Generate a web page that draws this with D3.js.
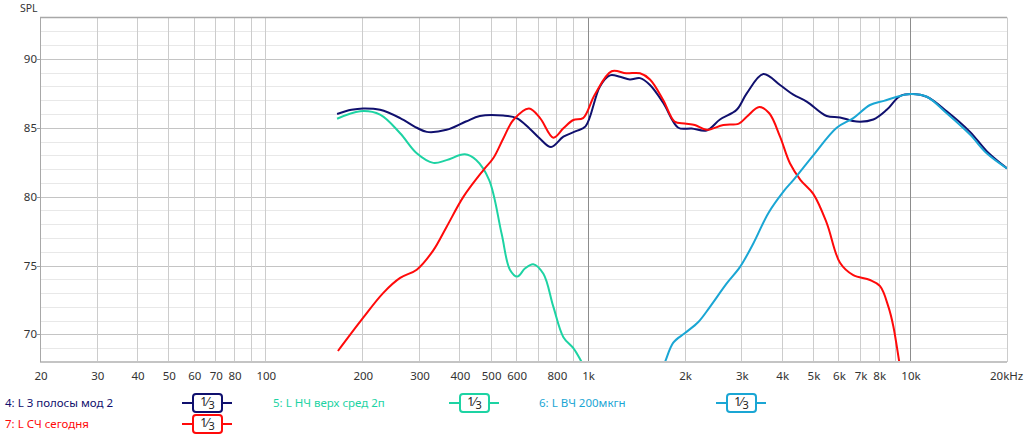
<!DOCTYPE html>
<html>
<head>
<meta charset="utf-8">
<script src="https://cdn.jsdelivr.net/npm/d3@7"></script>
<style>
  body { margin: 0; background: #fff; }
  text { font-family: "Noto Sans", "Open Sans", sans-serif; }
</style>
</head>
<body>
<script>
// frequency response data (Hz, dB SPL)
var navyFreq = [167,185,201,227,262,295,317,365,419,463,547,602,660,712,770,841,920,985,1092,1173,1260,1352,1454,1561,1717,1911,2103,2339,2574,2900,3116,3508,3953,4346,4782,5515,6067,6834,7696,8469,9312,10240,11272,13000,15360,17300,20000];
var navyDb   = [86.0,86.3,86.4,86.3,85.7,85.0,84.7,84.85,85.45,85.85,85.88,85.7,84.95,84.2,83.6,84.35,84.75,85.1,88.0,88.8,88.7,88.5,88.6,88.1,86.8,85.0,84.95,84.8,85.6,86.3,87.5,88.9,88.1,87.4,86.9,85.85,85.75,85.45,85.6,86.3,87.3,87.45,87.25,86.2,84.7,83.3,82.05];

var tealFreq = [167,197,227,262,295,332,365,416,451,495,541,574,605,640,678,729,783,841,903,958,1000];
var tealDb   = [85.65,86.2,85.95,84.6,83.15,82.45,82.65,83.07,82.66,81.2,77.3,74.7,74.2,74.8,75.1,74.4,72.0,69.8,69.0,68.0,67.2];

var cyanFreq = [1700,1738,1844,2005,2205,2396,2701,2970,3266,3635,4060,4346,5012,5925,6670,7516,8300,9120,10000,11272,13000,15360,17300,20000];
var cyanDb   = [67.5,68.0,69.4,70.1,70.9,72.0,73.7,74.9,76.6,78.8,80.4,81.2,83.0,85.0,85.7,86.65,86.95,87.25,87.45,87.25,86.05,84.5,83.15,82.05];

var redFreq = [168,201,232,262,295,332,365,412,475,510,547,588,658,712,783,841,903,968,1052,1187,1317,1454,1561,1717,1860,2000,2150,2339,2636,2945,3116,3409,3660,3953,4246,4577,5012,5515,6067,6670,7516,8076,8575,8879,9265,9500];
var redDb   = [68.8,71.2,73.0,74.1,74.7,76.1,77.8,80.0,81.93,82.8,84.2,85.56,86.4,85.7,84.28,84.96,85.56,85.7,87.4,89.1,88.95,88.95,88.5,87.0,85.45,85.3,85.2,84.85,85.2,85.3,85.8,86.5,86.05,84.35,82.4,81.2,80.2,78.1,75.2,74.3,73.95,73.5,72.0,70.6,68.0,66.5];

var seriesNames  = ["4: L 3 полосы мод 2", "5: L НЧ верх сред 2п", "6: L ВЧ 200мкгн", "7: L СЧ сегодня"];
var seriesColors = ["#10106e", "#1dd3a3", "#1aa6d4", "#ff0a0a"];

var xTicks = [20,30,40,50,60,70,80,100,200,300,400,500,600,800,1000,2000,3000,4000,5000,6000,7000,8000,10000,20000];
var xTickLabels = ["20","30","40","50","60","70","80","100","200","300","400","500","600","800","1k","2k","3k","4k","5k","6k","7k","8k","10k","20kHz"];
var yTicks = [70,75,80,85,90];

var W = 1027, H = 435;
var plotLeft = 40, plotRight = 1007, plotTop = 17.5, plotBottom = 362;

var svg = d3.select("body").append("svg").attr("width", W).attr("height", H);

var x = d3.scaleLog().domain([20, 20000]).range([plotLeft, plotRight]);
var y = d3.scaleLinear().domain([68, 93]).range([plotBottom, plotTop]);

// horizontal grid (1 dB, darker every 5 dB)
var g = svg.append("g");
g.selectAll("line.hmin").data(d3.range(69, 93)).enter().append("line")
    .attr("x1", plotLeft).attr("x2", plotRight)
    .attr("y1", function (d) { return Math.round(y(d)) + 0.5; })
    .attr("y2", function (d) { return Math.round(y(d)) + 0.5; })
    .attr("stroke", function (d) { return d % 5 === 0 ? "#c4c4c4" : "#e8e8e8"; })
    .attr("stroke-width", 1);

// vertical grid: 1..9 lines of each decade
var vgrid = [];
[10, 100, 1000, 10000].forEach(function (dec) {
    for (var k = 1; k < 10; k++) {
        var f = dec * k;
        if (f > 20 && f < 20000) vgrid.push(f);
    }
});
g.selectAll("line.v").data(vgrid).enter().append("line")
    .attr("x1", function (d) { return Math.round(x(d)) + 0.5; })
    .attr("x2", function (d) { return Math.round(x(d)) + 0.5; })
    .attr("y1", plotTop).attr("y2", plotBottom)
    .attr("stroke", function (d) { return (d === 1000 || d === 10000) ? "#8c8c8c" : "#cccccc"; })
    .attr("stroke-width", 1);

// frame
svg.append("line").attr("x1", plotLeft).attr("x2", plotRight).attr("y1", plotTop).attr("y2", plotTop)
    .attr("stroke", "#a8a8a8").attr("stroke-width", 1.5);
svg.append("line").attr("x1", plotLeft).attr("x2", plotRight).attr("y1", plotBottom).attr("y2", plotBottom)
    .attr("stroke", "#c4c4c4").attr("stroke-width", 2);
svg.append("line").attr("x1", plotLeft + 0.5).attr("x2", plotLeft + 0.5).attr("y1", plotTop).attr("y2", plotBottom)
    .attr("stroke", "#a8a8a8").attr("stroke-width", 1);
svg.append("line").attr("x1", plotRight + 0.5).attr("x2", plotRight + 0.5).attr("y1", plotTop).attr("y2", plotBottom)
    .attr("stroke", "#cccccc").attr("stroke-width", 1);

// y labels
svg.selectAll("text.yl").data(yTicks).enter().append("text")
    .attr("x", 37).attr("y", function (d) { return y(d); })
    .attr("dy", "0.35em")
    .attr("text-anchor", "end")
    .attr("font-size", 11.5)
    .attr("fill", "#333")
    .text(function (d) { return d; });
svg.selectAll("line.yt").data(yTicks).enter().append("line")
    .attr("x1", plotLeft - 3).attr("x2", plotLeft)
    .attr("y1", function (d) { return Math.round(y(d)) + 0.5; })
    .attr("y2", function (d) { return Math.round(y(d)) + 0.5; })
    .attr("stroke", "#999");

svg.append("text").attr("x", 20).attr("y", 12).attr("font-size", 10.5).attr("fill", "#333").text("SPL");

// x labels
svg.selectAll("text.xl").data(xTicks).enter().append("text")
    .attr("x", function (d, i) { return i === xTicks.length - 1 ? x(d) - 17 : x(d) + 1; })
    .attr("y", 380)
    .attr("text-anchor", function (d, i) { return i === xTicks.length - 1 ? "start" : "middle"; })
    .attr("font-size", 11.5)
    .attr("fill", "#333")
    .text(function (d, i) { return xTickLabels[i]; });

// curves
svg.append("clipPath").attr("id", "clip").append("rect")
    .attr("x", plotLeft).attr("y", plotTop).attr("width", plotRight - plotLeft).attr("height", plotBottom - plotTop - 1);

var line = d3.line()
    .x(function (d) { return x(d[0]); })
    .y(function (d) { return y(d[1]); })
    .curve(d3.curveCatmullRom.alpha(0.5));

var curves = [
    d3.zip(navyFreq, navyDb),
    d3.zip(tealFreq, tealDb),
    d3.zip(cyanFreq, cyanDb),
    d3.zip(redFreq, redDb)
];
var order = [0, 1, 3, 2];
var cg = svg.append("g").attr("clip-path", "url(#clip)");
order.forEach(function (i) {
    cg.append("path").datum(curves[i])
        .attr("d", line)
        .attr("fill", "none")
        .attr("stroke", seriesColors[i])
        .attr("stroke-width", 2)
        .attr("stroke-linejoin", "round");
});

// legend
var legendPos = [[5, 403, 182], [273, 403, 449], [539, 403, 716], [5, 424, 182]];
legendPos.forEach(function (p, i) {
    var lg = svg.append("g");
    lg.append("text").attr("x", p[0]).attr("y", p[1]).attr("dy", "0.35em")
        .attr("font-size", 11.5).attr("fill", seriesColors[i]).text(seriesNames[i]);
    lg.append("line").attr("x1", p[2]).attr("x2", p[2] + 50)
        .attr("y1", p[1]).attr("y2", p[1])
        .attr("stroke", seriesColors[i]).attr("stroke-width", 2);
    lg.append("rect").attr("x", p[2] + 11).attr("y", p[1] - 9)
        .attr("width", 29).attr("height", 18).attr("rx", 3)
        .attr("fill", "#fff").attr("stroke", seriesColors[i]).attr("stroke-width", 2);
    var t = lg.append("text").attr("x", p[2] + 25.5).attr("y", p[1] + 4)
        .attr("text-anchor", "middle").attr("font-size", 12).attr("fill", "#222");
    t.append("tspan").attr("dy", -1).text("1");
    t.append("tspan").attr("dy", 0).text("\u2044");
    t.append("tspan").attr("dy", 3).attr("font-size", 11).text("3");
});
</script>
</body>
</html>
